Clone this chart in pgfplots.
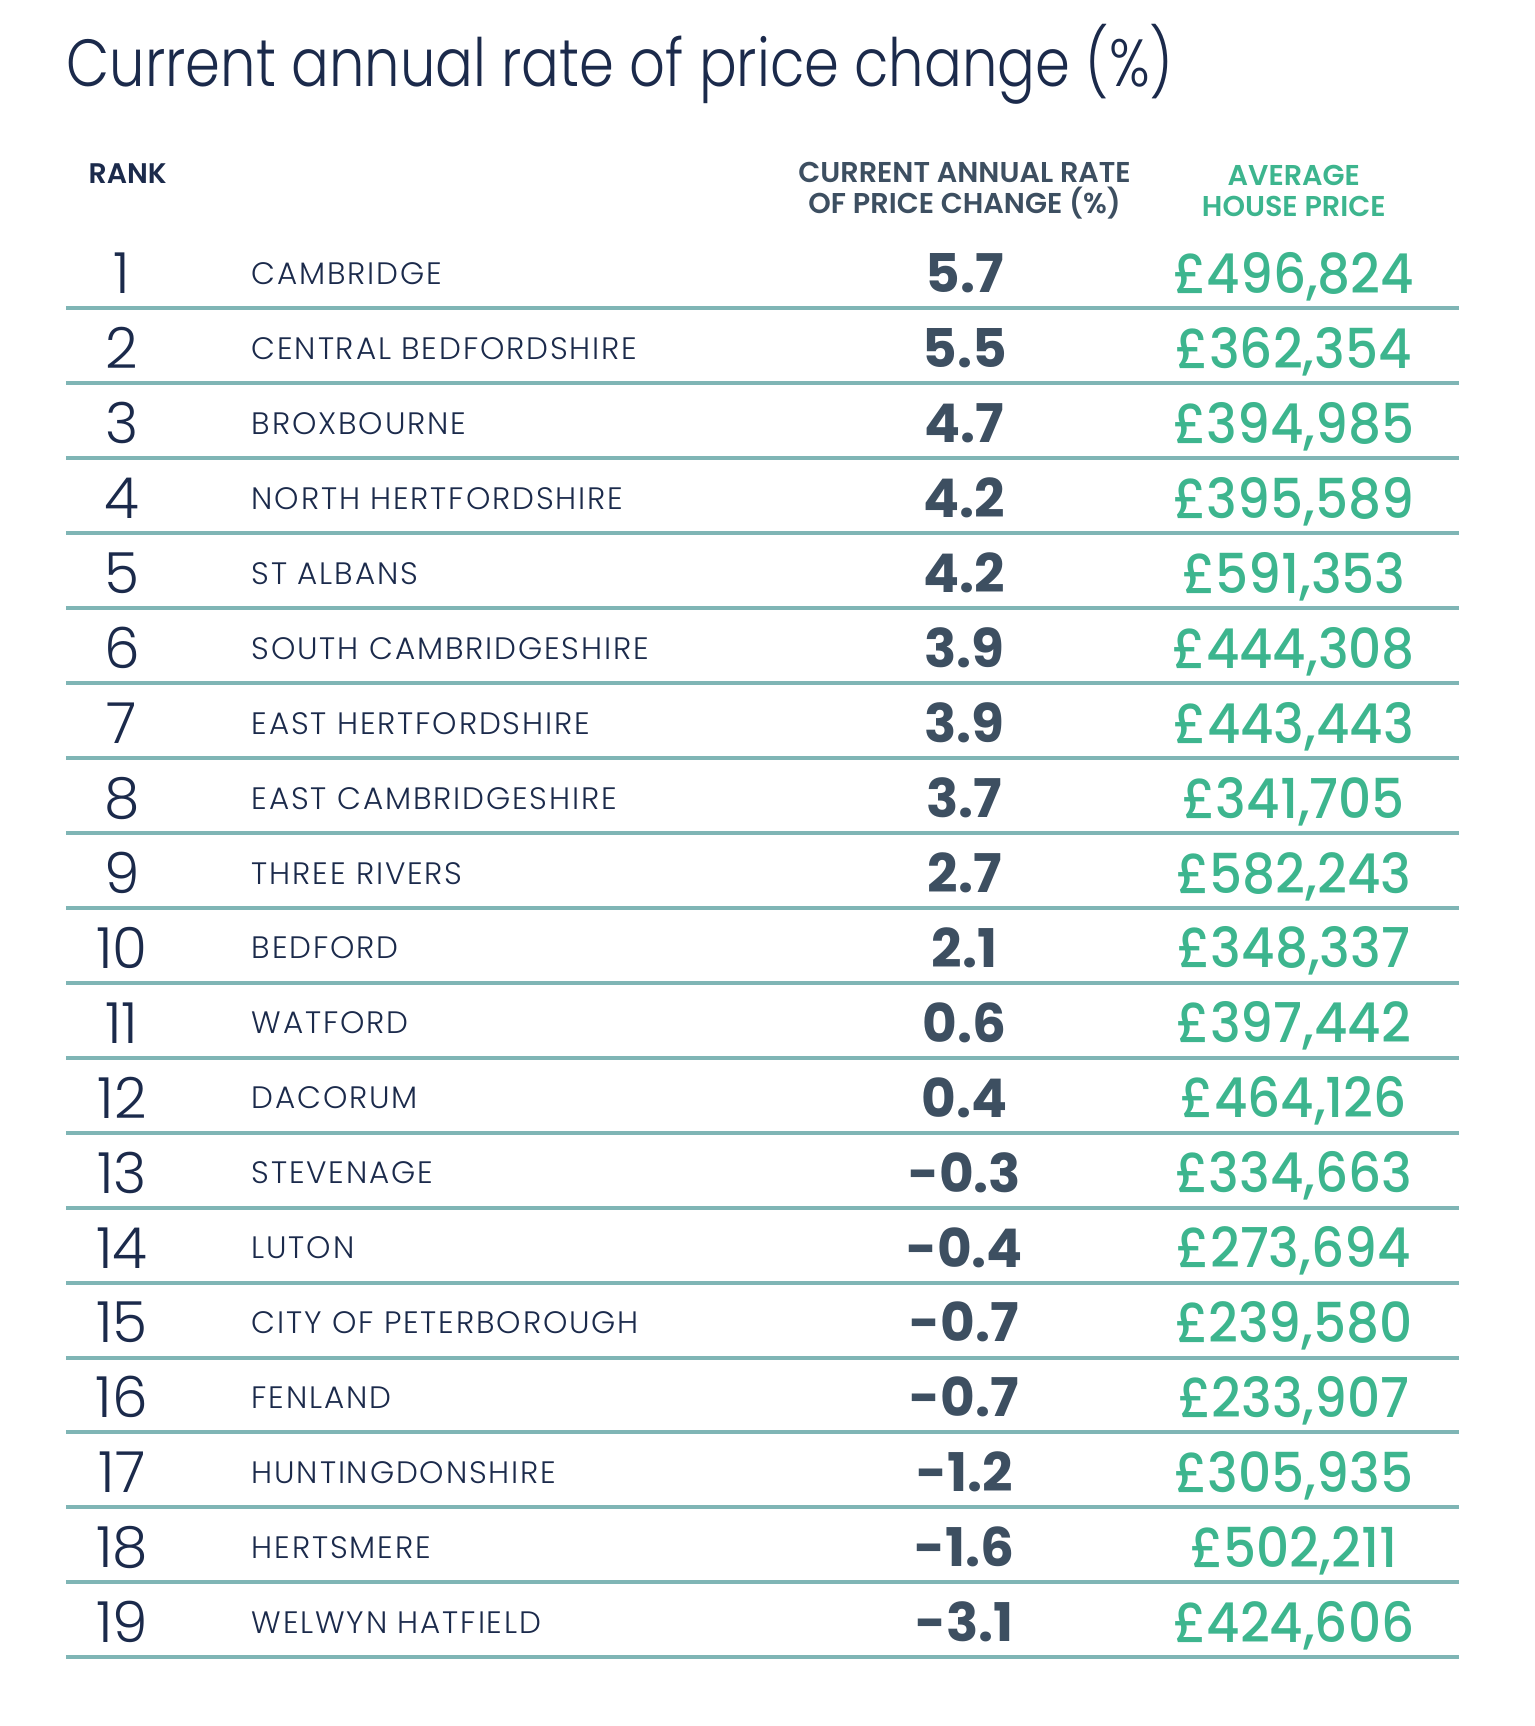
\documentclass[border=0pt]{standalone}
\usepackage{pgfplots}
\pgfplotsset{compat=1.18}
\usepackage{pgfplotstable}
\usepackage{fontspec}
\setmainfont{Poppins}
\newfontfamily\poplight{Poppins Light}
\newfontfamily\titlefont[FakeStretch=0.84]{Poppins Light}
\newfontfamily\namefont[LetterSpace=6]{Poppins Light}
\newfontfamily\popmed[FakeStretch=0.94]{Poppins Medium}
\newfontfamily\popsemi{Poppins SemiBold}

\definecolor{navy}{HTML}{1B2A4B}
\definecolor{slate}{HTML}{3D4F61}
\definecolor{mint}{HTML}{3DB58E}
\definecolor{rule}{HTML}{7FB5B5}

% y = row centre in px (image is 1535 x 1726 px, 1 px = 0.3pt)
\pgfplotstableread[col sep=semicolon]{
y;rank;name;rate;price
274.2;1;CAMBRIDGE;5.7;£496,824
349.1;2;CENTRAL BEDFORDSHIRE;5.5;£362,354
424.1;3;BROXBOURNE;4.7;£394,985
499.0;4;NORTH HERTFORDSHIRE;4.2;£395,589
574.0;5;ST ALBANS;4.2;£591,353
648.9;6;SOUTH CAMBRIDGESHIRE;3.9;£444,308
723.8;7;EAST HERTFORDSHIRE;3.9;£443,443
798.8;8;EAST CAMBRIDGESHIRE;3.7;£341,705
873.7;9;THREE RIVERS;2.7;£582,243
948.6;10;BEDFORD;2.1;£348,337
1023.6;11;WATFORD;0.6;£397,442
1098.5;12;DACORUM;0.4;£464,126
1173.5;13;STEVENAGE;-0.3;£334,663
1248.4;14;LUTON;-0.4;£273,694
1323.3;15;CITY OF PETERBOROUGH;-0.7;£239,580
1398.3;16;FENLAND;-0.7;£233,907
1473.2;17;HUNTINGDONSHIRE;-1.2;£305,935
1548.2;18;HERTSMERE;-1.6;£502,211
1623.1;19;WELWYN HATFIELD;-3.1;£424,606
}\ranking

\begin{document}
\begin{tikzpicture}
\begin{axis}[
    scale only axis, width=460.5pt, height=517.8pt,
    xmin=0, xmax=1535, ymin=0, ymax=1726, y dir=reverse,
    hide axis, clip=false,
    point meta=explicit symbolic,
    nodes near coords, nodes near coords align={anchor=base},
]
\path (axis cs:0,0) rectangle (axis cs:1535,1726);

% separators
\addplot[rule, line width=1.2pt, unbounded coords=jump, mark=none] coordinates {
 (66,308.3) (1459,308.3) (nan,nan)
 (66,383.2) (1459,383.2) (nan,nan)
 (66,458.2) (1459,458.2) (nan,nan)
 (66,533.1) (1459,533.1) (nan,nan)
 (66,608.1) (1459,608.1) (nan,nan)
 (66,683.0) (1459,683.0) (nan,nan)
 (66,757.9) (1459,757.9) (nan,nan)
 (66,832.9) (1459,832.9) (nan,nan)
 (66,907.8) (1459,907.8) (nan,nan)
 (66,982.8) (1459,982.8) (nan,nan)
 (66,1057.7) (1459,1057.7) (nan,nan)
 (66,1132.6) (1459,1132.6) (nan,nan)
 (66,1207.6) (1459,1207.6) (nan,nan)
 (66,1282.5) (1459,1282.5) (nan,nan)
 (66,1357.5) (1459,1357.5) (nan,nan)
 (66,1432.4) (1459,1432.4) (nan,nan)
 (66,1507.3) (1459,1507.3) (nan,nan)
 (66,1582.3) (1459,1582.3) (nan,nan)
 (66,1657.2) (1459,1657.2)
};

% columns
\addplot[draw=none, mark=none, every node near coord/.append style={anchor=base, yshift=-5.9pt, font=\poplight\fontsize{17}{17}\selectfont, text=navy}]
  table[x expr=122, y=y, meta=rank] {\ranking};
\addplot[draw=none, mark=none, every node near coord/.append style={anchor=base west, inner sep=0pt, yshift=-3.1pt, font=\namefont\fontsize{9.3}{9.3}\selectfont, text=navy}]
  table[x expr=251, y=y, meta=name] {\ranking};
\addplot[draw=none, mark=none, every node near coord/.append style={anchor=base, yshift=-5.6pt, font=\bfseries\fontsize{16}{16}\selectfont, text=slate}]
  table[x expr=964.6, y=y, meta=rate] {\ranking};
\addplot[draw=none, mark=none, every node near coord/.append style={anchor=base, yshift=-5.8pt, font=\popmed\fontsize{16.5}{16.5}\selectfont, text=mint}]
  table[x expr=1293.8, y=y, meta=price] {\ranking};

% title and headers
\node[anchor=base west, inner sep=0pt, font=\titlefont\fontsize{20}{20}\selectfont, text=navy] at (axis cs:66,86) {Current annual rate of price change (\%)};
\node[anchor=west, inner sep=0pt, font=\popsemi\fontsize{8.5}{8.5}\selectfont, text=navy] at (axis cs:88,174) {RANK};
\node[align=center, inner sep=0pt, font=\popsemi\fontsize{8.6}{9.3}\selectfont, text=slate] at (axis cs:964.6,190.5) {CURRENT ANNUAL RATE\\OF PRICE CHANGE (\%)};
\node[align=center, inner sep=0pt, font=\popsemi\fontsize{8.6}{9.3}\selectfont, text=mint] at (axis cs:1293.8,190.5) {AVERAGE\\HOUSE PRICE};
\end{axis}
\end{tikzpicture}
\end{document}
